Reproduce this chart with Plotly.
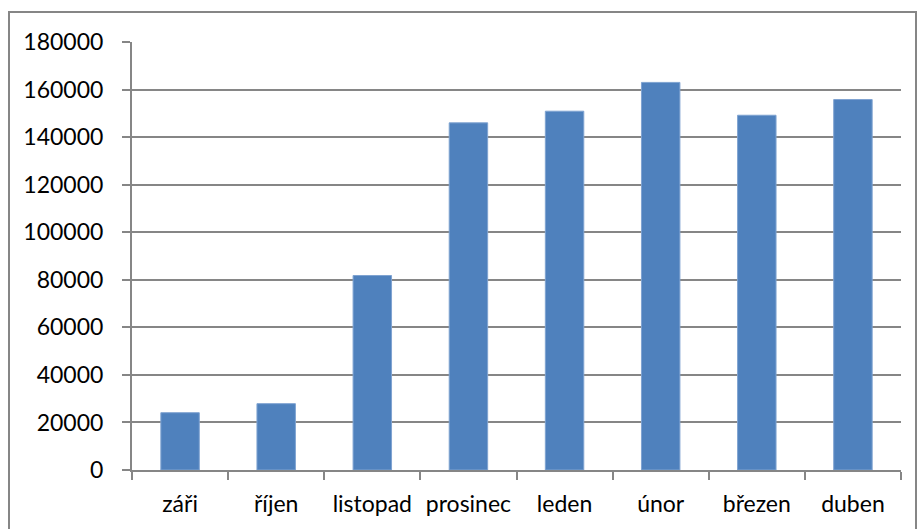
import plotly.graph_objects as go

categories = ["záři", "říjen", "listopad", "prosinec", "leden", "únor", "březen", "duben"]
values = [24100, 27900, 81800, 146000, 150900, 163000, 149200, 155800]
y_ticks = [0, 20000, 40000, 60000, 80000, 100000, 120000, 140000, 160000, 180000]
y_ticktext = [str(v) for v in y_ticks]

W, H = 919, 529
L, R, T, B = 132, 18, 42, 59
pw, ph = W - L - R, H - T - B

def px_x(x):
    return (x - L) / pw

def px_y(y):
    return (H - B - y) / ph

gray = "#868686"
fig = go.Figure()
fig.add_trace(go.Bar(
    x=categories, y=values,
    marker=dict(color="#4F81BD", line=dict(color="#7fa3d1", width=1)),
    width=0.4,
))

fig.update_layout(
    width=W, height=H,
    margin=dict(l=L, r=R, t=T, b=B, autoexpand=False),
    paper_bgcolor="white", plot_bgcolor="white",
    showlegend=False,
    font=dict(family="Lato", size=23, color="#000000"),
    shapes=[dict(type="rect", xref="paper", yref="paper",
                 x0=px_x(9), x1=px_x(916), y0=px_y(540), y1=px_y(12),
                 line=dict(color=gray, width=2), layer="below")],
)
fig.update_xaxes(
    showline=True, linecolor=gray, linewidth=2,
    ticks="outside", ticklen=8, tickcolor=gray, tickwidth=2,
    tickson="boundaries", showgrid=False, tickangle=0, automargin=False,
    ticklabelstandoff=12,
)
fig.update_yaxes(
    range=[0, 180000], tickvals=y_ticks, ticktext=y_ticktext,
    showline=True, linecolor=gray, linewidth=2,
    ticks="outside", ticklen=8, tickcolor=gray, tickwidth=2,
    showgrid=True, gridcolor=gray, gridwidth=2, automargin=False,
    zeroline=False, ticklabelstandoff=14,
)
fig.write_html("out.html", config={"displayModeBar": False},
               post_script="document.body.style.margin='0';document.body.style.padding='0';")
